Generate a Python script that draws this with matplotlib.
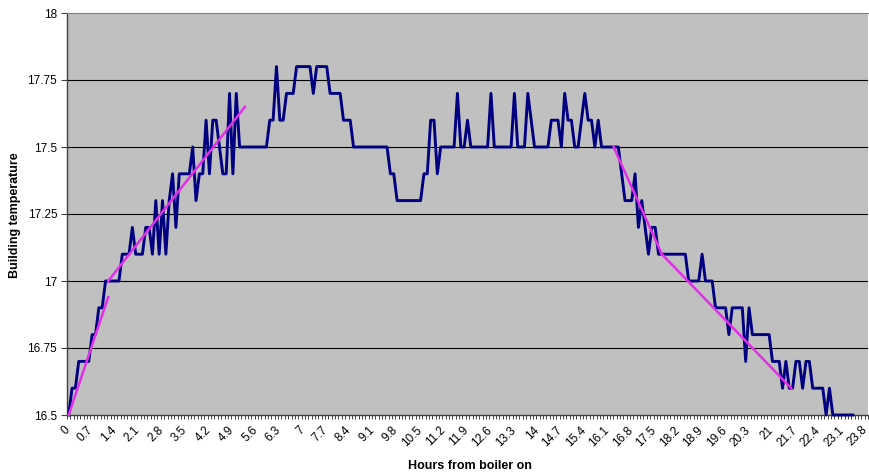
import numpy as np
import matplotlib
matplotlib.use('Agg')
import matplotlib.pyplot as plt
import matplotlib.transforms as mtransforms
from matplotlib.ticker import FixedLocator

plt.rcParams['font.family'] = ['Liberation Sans', 'DejaVu Sans']

# building temperature, one reading every 0.1 h from boiler on
temps = [
    16.5, 16.6, 16.6, 16.7, 16.7, 16.7, 16.7, 16.8, 16.8, 16.9,
    16.9, 17.0, 17.0, 17.0, 17.0, 17.0, 17.1, 17.1, 17.1, 17.2,
    17.1, 17.1, 17.1, 17.2, 17.2, 17.1, 17.3, 17.1, 17.3, 17.1,
    17.3, 17.4, 17.2, 17.4, 17.4, 17.4, 17.4, 17.5, 17.3, 17.4,
    17.4, 17.6, 17.4, 17.6, 17.6, 17.5, 17.4, 17.4, 17.7, 17.4,
    17.7, 17.5, 17.5, 17.5, 17.5, 17.5, 17.5, 17.5, 17.5, 17.5,
    17.6, 17.6, 17.8, 17.6, 17.6, 17.7, 17.7, 17.7, 17.8, 17.8,
    17.8, 17.8, 17.8, 17.7, 17.8, 17.8, 17.8, 17.8, 17.7, 17.7,
    17.7, 17.7, 17.6, 17.6, 17.6, 17.5, 17.5, 17.5, 17.5, 17.5,
    17.5, 17.5, 17.5, 17.5, 17.5, 17.5, 17.4, 17.4, 17.3, 17.3,
    17.3, 17.3, 17.3, 17.3, 17.3, 17.3, 17.4, 17.4, 17.6, 17.6,
    17.4, 17.5, 17.5, 17.5, 17.5, 17.5, 17.7, 17.5, 17.5, 17.6,
    17.5, 17.5, 17.5, 17.5, 17.5, 17.5, 17.7, 17.5, 17.5, 17.5,
    17.5, 17.5, 17.5, 17.7, 17.5, 17.5, 17.5, 17.7, 17.6, 17.5,
    17.5, 17.5, 17.5, 17.5, 17.6, 17.6, 17.6, 17.5, 17.7, 17.6,
    17.6, 17.5, 17.5, 17.6, 17.7, 17.6, 17.6, 17.5, 17.6, 17.5,
    17.5, 17.5, 17.5, 17.5, 17.5, 17.4, 17.3, 17.3, 17.3, 17.4,
    17.2, 17.3, 17.2, 17.1, 17.2, 17.2, 17.1, 17.1, 17.1, 17.1,
    17.1, 17.1, 17.1, 17.1, 17.1, 17.0, 17.0, 17.0, 17.0, 17.1,
    17.0, 17.0, 17.0, 16.9, 16.9, 16.9, 16.9, 16.8, 16.9, 16.9,
    16.9, 16.9, 16.7, 16.9, 16.8, 16.8, 16.8, 16.8, 16.8, 16.8,
    16.7, 16.7, 16.7, 16.6, 16.7, 16.6, 16.6, 16.7, 16.7, 16.6,
    16.7, 16.7, 16.6, 16.6, 16.6, 16.6, 16.5, 16.6, 16.5, 16.5,
    16.5, 16.5, 16.5, 16.5, 16.5,
]

# hour categories on the x axis (0.0 .. 23.8)
n_cat = 239
hours = [round(0.1 * i, 1) for i in range(n_cat)]
label_every = 7

# hand-drawn trend lines (category index, temperature)
trend_x = [[0, 11.8], [11.8, 52.6], [162.6, 177], [177, 215.6]]
trend_y = [[16.5, 16.94], [17.0, 17.65], [17.5, 17.1], [17.1, 16.6]]

fig = plt.figure(figsize=(8.69, 4.74), dpi=100)
ax = fig.add_axes([67 / 869, 59 / 474, 801 / 869, 402 / 474])
ax.set_facecolor('#c0c0c0')

x = np.arange(len(temps))
ax.plot(x, temps, color='#000080', lw=2.1, clip_on=False, zorder=3)
for tx, ty in zip(trend_x, trend_y):
    ax.plot(tx, ty, color='#e030e8', lw=1.8, zorder=4, clip_on=False)

ax.set_xlim(-0.5, n_cat - 0.5)
ax.set_ylim(16.5, 18)

yt = [16.5, 16.75, 17, 17.25, 17.5, 17.75, 18]
ax.set_yticks(yt)
ax.set_yticklabels(['16.5', '16.75', '17', '17.25', '17.5', '17.75', '18'], fontsize=8.5)
for v in yt[1:-1]:
    ax.axhline(v, color='black', lw=0.8, zorder=1)

# x labels drawn by hand so they can sit a little left of each category
lab_idx = list(range(0, n_cat, label_every))
ax.set_xticks([])
shift = mtransforms.ScaledTranslation(-5 / 100, -9 / 100, fig.dpi_scale_trans)
trans = ax.get_xaxis_transform() + shift
for i in lab_idx:
    ax.text(i, 0, '%g' % hours[i], transform=trans, fontsize=8.5, rotation=45,
            ha='right', va='top', rotation_mode='anchor', clip_on=False)
ax.xaxis.set_minor_locator(FixedLocator(np.arange(-0.5, n_cat, 1)))
ax.tick_params(axis='x', which='minor', length=3, width=0.7, color='#404040')
ax.tick_params(axis='y', length=4, width=0.8, pad=3, color='#404040')

for s in ['left', 'bottom']:
    ax.spines[s].set_color('#404040')
    ax.spines[s].set_linewidth(1.0)
ax.spines['top'].set_color('#808080')
ax.spines['right'].set_visible(False)

fig.text(470 / 869, 1 - 466 / 474, 'Hours from boiler on', fontsize=9,
         fontweight='bold', ha='center', va='center')
fig.text(15 / 869, 1 - 215 / 474, 'Building temperature', fontsize=9,
         fontweight='bold', ha='center', va='center', rotation=90)

fig.savefig('out.png', dpi=100)
